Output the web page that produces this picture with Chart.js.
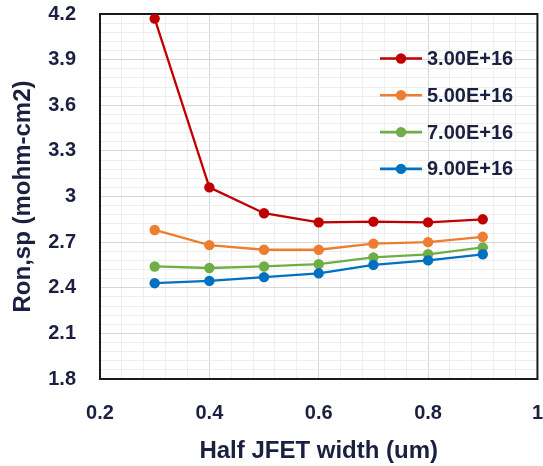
<!DOCTYPE html>
<html>
<head>
<meta charset="utf-8">
<script src="https://cdn.jsdelivr.net/npm/chart.js@4/dist/chart.umd.min.js"></script>
<style>
  html, body { margin: 0; padding: 0; background: #fff; }
  #wrap { width: 543px; height: 466px; }
</style>
</head>
<body>
<div id="wrap"><canvas id="chart" width="543" height="466"></canvas></div>
<script>
// ── Data ──
const halfWidth = [0.3, 0.4, 0.5, 0.6, 0.7, 0.8, 0.9];
const seriesLabels = ["3.00E+16", "5.00E+16", "7.00E+16", "9.00E+16"];
const ron3e16 = [4.17, 3.06, 2.89, 2.83, 2.835, 2.83, 2.85];
const ron5e16 = [2.78, 2.68, 2.65, 2.65, 2.69, 2.70, 2.735];
const ron7e16 = [2.54, 2.53, 2.54, 2.555, 2.60, 2.62, 2.665];
const ron9e16 = [2.43, 2.445, 2.47, 2.495, 2.55, 2.58, 2.62];

const xTickValues = [0.2, 0.4, 0.6, 0.8, 1.0];
const xTickLabels = ["0.2", "0.4", "0.6", "0.8", "1"];
const yTickValues = [1.8, 2.1, 2.4, 2.7, 3.0, 3.3, 3.6, 3.9, 4.2];
const yTickLabels = ["1.8", "2.1", "2.4", "2.7", "3", "3.3", "3.6", "3.9", "4.2"];
const minorPerMajor = 5;

// ── Style ──
const COLORS = ["#c00000", "#ed7d31", "#70ad47", "#0070c0"];
const TEXT = "#1b2040";
const GRID_MAJOR = "#d6d6d6";
const GRID_MINOR = "#eeeeee";
const FONT = "'Liberation Sans', Arial, sans-serif";

// major ticks + evenly spaced minor ticks in between
function withMinors(majors) {
  const out = [];
  for (let i = 0; i < majors.length; i++) {
    out.push({ value: majors[i], major: true });
    if (i < majors.length - 1) {
      const step = (majors[i + 1] - majors[i]) / minorPerMajor;
      for (let k = 1; k < minorPerMajor; k++) {
        out.push({ value: majors[i] + step * k, major: false });
      }
    }
  }
  return out;
}

function labelFor(values, labels, v) {
  const i = values.findIndex((m) => Math.abs(m - v) < 1e-9);
  return i >= 0 ? labels[i] : "";
}

function gridColor(ctx) {
  return ctx.tick && ctx.tick.major ? GRID_MAJOR : GRID_MINOR;
}

const seriesValues = [ron3e16, ron5e16, ron7e16, ron9e16];
const datasets = seriesValues.map((vals, i) => ({
  label: seriesLabels[i],
  data: halfWidth.map((x, j) => ({ x, y: vals[j] })),
  showLine: true,
  borderColor: COLORS[i],
  backgroundColor: COLORS[i],
  borderWidth: 2.3,
  pointRadius: 5.2,
  pointHoverRadius: 5.2,
  pointBorderWidth: 0,
  order: seriesValues.length - i, // later series drawn on top, like Excel
}));

// Plot frame around the chart area
const frame = {
  id: "frame",
  beforeDatasetsDraw(chart) {
    const { ctx, chartArea: a } = chart;
    ctx.save();
    ctx.strokeStyle = "#1a1a1a";
    ctx.lineWidth = 2;
    ctx.strokeRect(a.left, a.top, a.right - a.left, a.bottom - a.top);
    ctx.restore();
  },
};

// Legend drawn inside the plot, top right (no box)
const insideLegend = {
  id: "insideLegend",
  afterDraw(chart) {
    const { ctx } = chart;
    ctx.save();
    ctx.font = "bold 20px " + FONT;
    ctx.textBaseline = "middle";
    ctx.textAlign = "left";
    chart.data.datasets.forEach((ds, i) => {
      const y = 58.5 + i * 36.8;
      ctx.strokeStyle = ds.borderColor;
      ctx.lineWidth = 2.6;
      ctx.beginPath();
      ctx.moveTo(380, y);
      ctx.lineTo(422, y);
      ctx.stroke();
      ctx.fillStyle = ds.borderColor;
      ctx.beginPath();
      ctx.arc(401, y, 5.2, 0, Math.PI * 2);
      ctx.fill();
      ctx.fillStyle = TEXT;
      ctx.fillText(ds.label, 427, y + 1);
    });
    ctx.restore();
  },
};

new Chart(document.getElementById("chart"), {
  type: "scatter",
  data: { datasets },
  options: {
    responsive: false,
    animation: false,
    devicePixelRatio: 1,
    layout: { padding: { top: 14, right: 0, left: 0, bottom: 0 } },
    plugins: {
      legend: { display: false },
      tooltip: { enabled: false },
    },
    scales: {
      x: {
        type: "linear",
        min: 0.2,
        max: 1.0,
        afterBuildTicks(scale) { scale.ticks = withMinors(xTickValues); },
        afterFit(scale) { scale.height = 87; },
        // hidden tick marks give the label gap (ticks.padding would also pad the ends)
        grid: { color: gridColor, lineWidth: 1, drawTicks: true, tickLength: 22, tickColor: "rgba(0,0,0,0)" },
        border: { display: false },
        ticks: {
          autoSkip: false,
          maxRotation: 0,
          padding: 0,
          color: TEXT,
          font: { family: FONT, size: 20, weight: "bold" },
          callback: (v) => labelFor(xTickValues, xTickLabels, v),
        },
        title: {
          display: true,
          text: "Half JFET width (um)",
          color: TEXT,
          font: { family: FONT, size: 24, weight: "bold" },
          padding: { top: 0, bottom: 0 },
        },
      },
      y: {
        type: "linear",
        min: 1.8,
        max: 4.2,
        afterBuildTicks(scale) { scale.ticks = withMinors(yTickValues); },
        afterFit(scale) { scale.width = 100; },
        grid: { color: gridColor, lineWidth: 1, drawTicks: true, tickLength: 24, tickColor: "rgba(0,0,0,0)" },
        border: { display: false },
        ticks: {
          autoSkip: false,
          padding: 0,
          color: TEXT,
          font: { family: FONT, size: 20, weight: "bold" },
          callback: (v) => labelFor(yTickValues, yTickLabels, v),
        },
        title: {
          display: true,
          text: "Ron,sp (mohm-cm2)",
          color: TEXT,
          font: { family: FONT, size: 24, weight: "bold" },
          padding: { top: 9, bottom: 0 },
        },
      },
    },
  },
  plugins: [frame, insideLegend],
});
</script>
</body>
</html>
